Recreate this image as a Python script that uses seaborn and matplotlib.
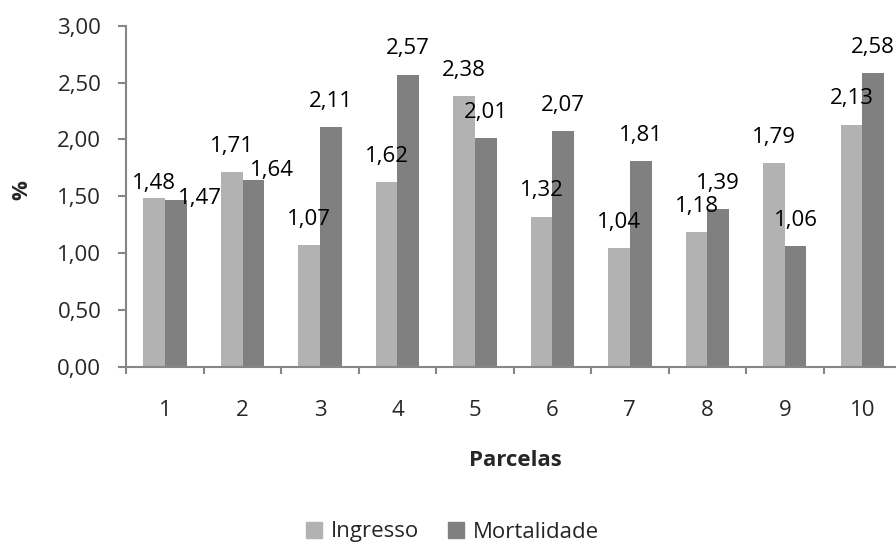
import matplotlib

matplotlib.use("Agg")
import matplotlib.pyplot as plt
import matplotlib.patches as mpatches
import matplotlib.ticker as mticker
import numpy as np
import pandas as pd
import seaborn as sns

# --- dane ---
PARCELAS = ["1", "2", "3", "4", "5", "6", "7", "8", "9", "10"]
INGRESSO = [1.48, 1.71, 1.07, 1.62, 2.38, 1.32, 1.04, 1.18, 1.79, 2.13]
MORTALIDADE = [1.47, 1.64, 2.11, 2.57, 2.01, 2.07, 1.81, 1.39, 1.06, 2.58]
SERIES = ["Ingresso", "Mortalidade"]
Y_TICKS = [0.0, 0.5, 1.0, 1.5, 2.0, 2.5, 3.0]

# --- estilo ---
COLORS = {"Ingresso": "#b2b2b2", "Mortalidade": "#808080"}
AXIS_COLOR = "#868686"
FONT = ["Open Sans", "DejaVu Sans"]
FS = 16
# deslocamentos manuais de alguns rótulos (pontos), como no gráfico original
LABEL_SHIFT = {("Ingresso", 0): (0, 11), ("Mortalidade", 0): (17.5, 0.7),
               ("Mortalidade", 1): (13.3, 7.2)}
DEFAULT_DY = 18.4

sns.set_style("white")
plt.rcParams["font.family"] = FONT

df = pd.DataFrame({
    "Parcela": PARCELAS * 2,
    "Serie": [SERIES[0]] * len(PARCELAS) + [SERIES[1]] * len(PARCELAS),
    "Valor": INGRESSO + MORTALIDADE,
})

fig = plt.figure(figsize=(8.96, 5.45), dpi=100)
ax = fig.add_axes([126.3 / 896, 1 - 366.5 / 545, 774.7 / 896, 340.8 / 545])

sns.barplot(data=df, x="Parcela", y="Valor", hue="Serie", hue_order=SERIES,
            order=PARCELAS, palette=COLORS, width=0.56, saturation=1,
            linewidth=0, legend=False, ax=ax, errorbar=None)

# rótulos de dados
for s_idx, serie in enumerate(SERIES):
    container = ax.containers[s_idx]
    for i, bar in enumerate(container):
        h = bar.get_height()
        dx, dy = LABEL_SHIFT.get((serie, i), (0, DEFAULT_DY))
        ax.annotate(f"{h:.2f}".replace(".", ","),
                    (bar.get_x() + bar.get_width() / 2, h),
                    xytext=(dx, dy), textcoords="offset points",
                    ha="center", va="center", fontsize=FS, color="black")

ax.set_ylim(0, 3)
ax.set_xlim(-0.5, len(PARCELAS) - 0.5)
ax.set_yticks(Y_TICKS)
ax.yaxis.set_major_formatter(mticker.FuncFormatter(lambda v, p: f"{v:.2f}".replace(".", ",")))
ax.tick_params(axis="y", direction="out", length=6, width=1.5, color=AXIS_COLOR,
               labelsize=FS, pad=12, left=True)
ax.set_xticks(range(len(PARCELAS)))
ax.set_xticklabels(PARCELAS)
ax.set_xticks(np.arange(-0.5, len(PARCELAS)), minor=True)
ax.tick_params(axis="x", which="major", length=0, labelsize=FS, pad=24)
ax.tick_params(axis="x", which="minor", direction="out", length=5, width=1.5,
               color=AXIS_COLOR, bottom=True)

for side in ["top", "right"]:
    ax.spines[side].set_visible(False)
for side in ["left", "bottom"]:
    ax.spines[side].set_color(AXIS_COLOR)
    ax.spines[side].set_linewidth(1.5)
ax.set_xlabel("")
ax.set_ylabel("")
ax.grid(False)

fig.text(21.5 / 896, 1 - 190 / 545, "%", rotation=90, ha="center", va="center",
         fontsize=FS, fontweight="bold")
fig.text(515 / 896, 1 - 461 / 545, "Parcelas", ha="center", va="center",
         fontsize=FS, fontweight="bold")

handles = [mpatches.Patch(color=COLORS[s], label=s) for s in SERIES]
fig.legend(handles=handles, loc="center", bbox_to_anchor=(452.5 / 896, 1 - 532 / 545),
           ncol=2, frameon=False, fontsize=FS, handlelength=0.7, handleheight=0.7,
           handletextpad=0.4, columnspacing=1.3)

fig.savefig("out.png", dpi=100)
